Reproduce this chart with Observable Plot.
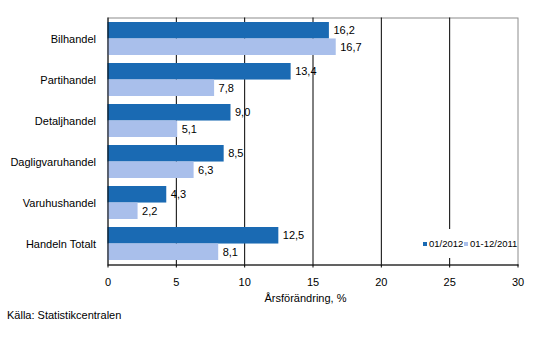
<!DOCTYPE html>
<html>
<head>
<meta charset="utf-8">
<script src="https://cdn.jsdelivr.net/npm/d3@7"></script>
<script src="https://cdn.jsdelivr.net/npm/@observablehq/plot@0.6"></script>
<style>
  html, body { margin: 0; padding: 0; background: #fff; }
  #wrap { position: relative; width: 533px; font-family: "Liberation Sans", Arial, sans-serif; }
  #legend { position: absolute; left: 419px; top: 229px; width: 97px; height: 29px; background: #fff;
            font-size: 9.5px; color: #000; white-space: nowrap; }
  #legend .item { position: absolute; top: 10px; line-height: 10px; }
  #legend .sw { display: inline-block; width: 4px; height: 4px; margin-right: 2px; vertical-align: 1px; }
  #caption { font-size: 11px; line-height: 14px; padding-left: 7px; color: #000; }
</style>
</head>
<body>
<div id="wrap">
  <div id="chart"></div>
  <div id="legend"></div>
  <div id="caption"></div>
</div>
<script>
const categories = ["Bilhandel", "Partihandel", "Detaljhandel", "Dagligvaruhandel", "Varuhushandel", "Handeln Totalt"];
const seriesNames = ["01/2012", "01-12/2011"];
const values2012 = [16.2, 13.4, 9.0, 8.5, 4.3, 12.5];
const values2011 = [16.7, 7.8, 5.1, 6.3, 2.2, 8.1];
const xTicks = [0, 5, 10, 15, 20, 25, 30];
const gridTicks = [5, 10, 15, 20, 25];
const xLabel = "Årsförändring, %";
const source = "Källa: Statistikcentralen";
const colors = ["#1a6ab3", "#a9bfeb"];

const width = 533, height = 308;
const marginTop = 17.5, marginBottom = 43.5, marginLeft = 107.5, marginRight = 15.5;
const padInner = 0.2, padOuter = 0.1;
const step = (height - marginTop - marginBottom) / (categories.length - padInner + 2 * padOuter);
const half = step * (1 - padInner) / 2;

const d2012 = categories.map((c, i) => ({category: c, value: values2012[i], series: seriesNames[0]}));
const d2011 = categories.map((c, i) => ({category: c, value: values2011[i], series: seriesNames[1]}));
const fmt = d => d3.format(".1f")(d.value).replace(".", ",");

const chart = Plot.plot({
  width, height, marginTop, marginBottom, marginLeft, marginRight,
  style: {fontFamily: "'Liberation Sans', Arial, sans-serif", fontSize: "11px", color: "#000", background: "#fff"},
  x: {domain: [0, 30]},
  y: {domain: categories, paddingInner: padInner, paddingOuter: padOuter},
  marks: [
    Plot.frame({stroke: "#8c8c8c"}),
    Plot.gridX(gridTicks, {stroke: "#000", strokeOpacity: 1}),
    Plot.barX(d2012, {x: "value", y: "category", fill: colors[0], insetBottom: half}),
    Plot.barX(d2011, {x: "value", y: "category", fill: colors[1], insetTop: half}),
    Plot.text(d2012, {x: "value", y: "category", text: fmt, dy: -half / 2, dx: 4, textAnchor: "start", fill: "#000"}),
    Plot.text(d2011, {x: "value", y: "category", text: fmt, dy: half / 2, dx: 4, textAnchor: "start", fill: "#000"}),
    Plot.ruleX([0], {stroke: "#000"}),
    Plot.frame({anchor: "bottom", stroke: "#000"}),
    Plot.axisX(xTicks, {tickSize: 3, tickPadding: 10, tickFormat: d => String(d), label: null, stroke: "#000"}),
    Plot.axisY({tickSize: 0, tickPadding: 12, label: null}),
    Plot.text([xLabel], {frameAnchor: "bottom", dy: 37, dx: -7.5, text: d => d, fill: "#000"})
  ]
});
document.getElementById("chart").appendChild(chart);

const legend = document.getElementById("legend");
const lx = [4, 45];
seriesNames.forEach((s, i) => {
  const item = document.createElement("span");
  item.className = "item";
  item.style.left = lx[i] + "px";
  const sw = document.createElement("span");
  sw.className = "sw";
  sw.style.background = colors[i];
  item.appendChild(sw);
  item.appendChild(document.createTextNode(s));
  legend.appendChild(item);
});
document.getElementById("caption").textContent = source;
</script>
</body>
</html>
